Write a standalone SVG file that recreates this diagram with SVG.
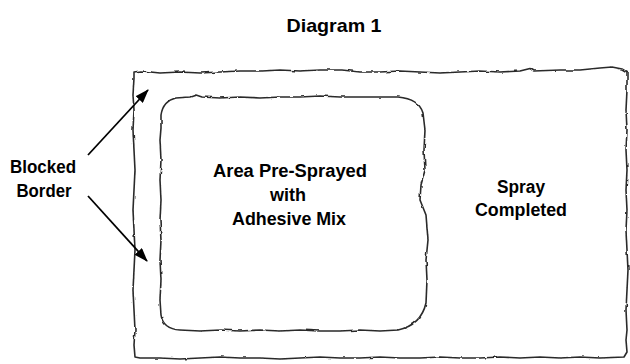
<svg xmlns="http://www.w3.org/2000/svg" width="630" height="364" viewBox="0 0 630 364">
<style>
.lbl{font-family:"Liberation Sans",Arial,sans-serif;font-weight:bold;font-size:18px;fill:#000;text-anchor:middle}
.title{font-size:19px}
.edge{fill:none;stroke:#2a2a2a;stroke-width:1.6;stroke-linejoin:round;filter:url(#rough)}
.arrow{fill:none;stroke:#000;stroke-width:1.8;marker-end:url(#ah)}
</style>
<defs>
<filter id="rough" x="-5%" y="-5%" width="110%" height="110%">
<feTurbulence type="fractalNoise" baseFrequency="0.12" numOctaves="2" seed="3" result="n"/>
<feDisplacementMap in="SourceGraphic" in2="n" scale="2.6" xChannelSelector="R" yChannelSelector="G"/>
</filter>
<marker id="ah" viewBox="0 0 14 10" refX="13" refY="5" markerWidth="14" markerHeight="10" markerUnits="userSpaceOnUse" orient="auto">
<path d="M0,0 L14,5 L0,10 Z" fill="#000"/>
</marker>
</defs>
<rect width="630" height="364" fill="#fff"/>
<text class="lbl title" x="334" y="32" textLength="95" lengthAdjust="spacingAndGlyphs">Diagram 1</text>
<g id="outer">
<path class="edge" d="M134,78 L134,72 L141,71 L160,73 L180,72 L200,73 L220,72 L240,71 L262,71 L280,70 L300,71 L320,70 L342,70 L360,72 L380,72 L400,71 L420,72 L440,73 L460,72 L480,71 L500,72 L520,71 L530,68.5 L534,71 L560,70 L580,70 L600,68 L612,67 L622,69 L627,72 L627,90 L626,110 L627,130 L626,150 L627,170 L626,190 L627,210 L626,230 L627,250 L628,270 L627,290 L626,310 L627,330 L626,340 L627,352 L624,357 L600,358 L580,357 L560,358 L540,357 L520,358 L500,357 L480,358 L460,358 L440,357 L420,358 L400,358 L380,357 L360,358 L340,358 L320,357 L300,358 L280,359 L260,358 L240,358 L220,357 L200,358 L180,359 L160,358 L140,358 L135,357 L134,345 L135,330 L134,310 L133,290 L134,270 L135,250 L134,230 L133,210 L134,190 L135,170 L134,150 L133,130 L134,110 L133,95 Z"/>
</g>
<g id="inner">
<path class="edge" d="M161,128 L161,115 Q163,101 176,98 L190,97 L196,95 L202,97 L220,98 L240,97 L260,98 L280,97 L300,97 L320,96 L340,97 L360,97 L380,97 L398,97 Q419,99 423,113 L425,130 L424,150 L425,170 L421,185 L420,200 L426,215 L428,240 L426,260 L427,280 L426,303 Q421,325 398,330 L380,331 L360,330 L340,331 L320,331 L300,330 L280,331 L260,330 L240,331 L220,330 L200,331 L180,330 Q163,329 161,315 L160,300 L161,280 L160,260 L161,240 L160,220 L161,200 L160,180 L161,160 L160,140 Z"/>
</g>
<g id="label-blocked">
<text class="lbl" x="43" y="173" textLength="66" lengthAdjust="spacingAndGlyphs">Blocked</text>
<text class="lbl" x="44" y="197" textLength="55" lengthAdjust="spacingAndGlyphs">Border</text>
</g>
<g id="label-area">
<text class="lbl" x="290" y="177" textLength="154" lengthAdjust="spacingAndGlyphs">Area Pre-Sprayed</text>
<text class="lbl" x="288" y="201">with</text>
<text class="lbl" x="289" y="225" textLength="114" lengthAdjust="spacingAndGlyphs">Adhesive Mix</text>
</g>
<g id="label-spray">
<text class="lbl" x="521" y="193" textLength="48" lengthAdjust="spacingAndGlyphs">Spray</text>
<text class="lbl" x="521" y="216" textLength="92" lengthAdjust="spacingAndGlyphs">Completed</text>
</g>
<g id="connectors">
<line class="arrow" x1="88" y1="155" x2="148" y2="90"/>
<line class="arrow" x1="88" y1="196" x2="147" y2="261"/>
</g>
</svg>
